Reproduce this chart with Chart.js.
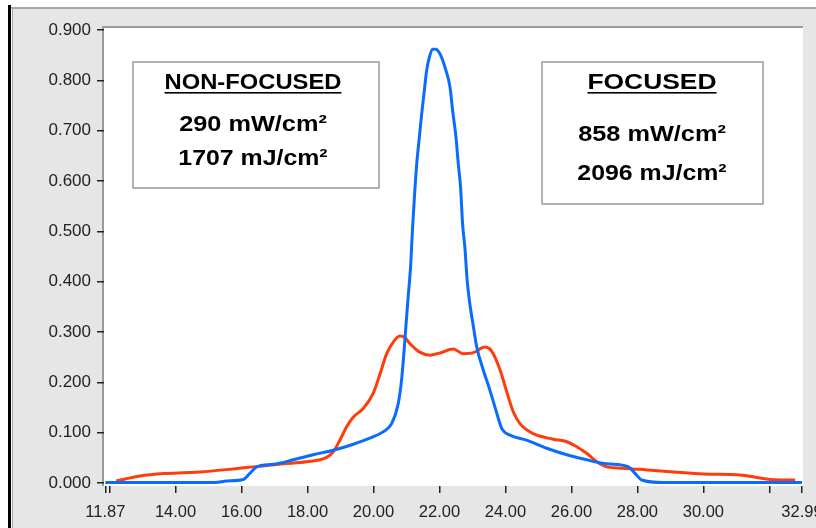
<!DOCTYPE html>
<html>
<head>
<meta charset="utf-8">
<script src="https://cdn.jsdelivr.net/npm/chart.js@4/dist/chart.umd.min.js"></script>
<style>
  html, body { margin: 0; padding: 0; background: #ffffff; }
  #wrap { position: relative; width: 816px; height: 528px; }
</style>
</head>
<body>
<div id="wrap"><canvas id="c" width="816" height="528"></canvas></div>
<script>
// ---- Data ----
const focusedX = [11.87, 15.2, 15.55, 16.05, 16.25, 16.46, 16.96, 17.57, 18.17, 18.78, 19.39, 19.89, 20.3, 20.55, 20.75, 20.85, 20.92, 20.98, 21.05, 21.13, 21.18, 21.24, 21.31, 21.39, 21.46, 21.54, 21.61, 21.69, 21.79, 21.89, 22.02, 22.17, 22.32, 22.40, 22.50, 22.57, 22.64, 22.70, 22.77, 22.84, 22.92, 23.03, 23.13, 23.33, 23.53, 23.74, 23.89, 24.14, 24.64, 25.25, 25.86, 26.46, 27.07, 27.73, 27.93, 28.13, 28.79, 32.99];
const focusedY = [0.001, 0.001, 0.004, 0.007, 0.019, 0.032, 0.037, 0.046, 0.056, 0.065, 0.077, 0.089, 0.102, 0.118, 0.158, 0.204, 0.257, 0.310, 0.369, 0.436, 0.502, 0.568, 0.634, 0.687, 0.733, 0.779, 0.819, 0.845, 0.862, 0.862, 0.852, 0.825, 0.786, 0.739, 0.687, 0.634, 0.587, 0.515, 0.468, 0.402, 0.356, 0.310, 0.270, 0.224, 0.184, 0.138, 0.108, 0.095, 0.085, 0.069, 0.056, 0.046, 0.038, 0.032, 0.019, 0.006, 0.001, 0.001];

const nonFocusedX = [12.2, 12.92, 13.73, 14.74, 15.75, 16.35, 17.26, 17.97, 18.58, 18.78, 18.98, 19.19, 19.39, 19.69, 19.99, 20.2, 20.4, 20.6, 20.8, 20.95, 21.1, 21.4, 21.71, 22.0, 22.42, 22.72, 23.03, 23.38, 23.58, 23.83, 24.04, 24.24, 24.44, 24.84, 25.45, 25.86, 26.16, 26.46, 26.77, 27.07, 27.68, 28.28, 29.09, 30.0, 31.11, 31.62, 32.02, 32.78];
const nonFocusedY = [0.004, 0.014, 0.019, 0.022, 0.028, 0.032, 0.038, 0.042, 0.051, 0.062, 0.085, 0.112, 0.131, 0.148, 0.178, 0.217, 0.257, 0.280, 0.292, 0.289, 0.277, 0.260, 0.254, 0.258, 0.266, 0.257, 0.259, 0.270, 0.262, 0.226, 0.181, 0.141, 0.118, 0.098, 0.087, 0.082, 0.072, 0.059, 0.042, 0.032, 0.029, 0.026, 0.022, 0.018, 0.016, 0.011, 0.007, 0.006];

const xTickValues = [11.87, 12, 14, 16, 18, 20, 22, 24, 26, 28, 30, 32, 32.99];
const xTickLabels = ['11.87', '', '14.00', '16.00', '18.00', '20.00', '22.00', '24.00', '26.00', '28.00', '30.00', '', '32.99'];
const yTickValues = [0, 0.1, 0.2, 0.3, 0.4, 0.5, 0.6, 0.7, 0.8, 0.9];

const nonFocusedBox = ['NON-FOCUSED', '290 mW/cm²', '1707 mJ/cm²'];
const focusedBox = ['FOCUSED', '858 mW/cm²', '2096 mJ/cm²'];

// ---- Drawing helpers ----
const frame = {
  id: 'frame',
  beforeDraw(chart) {
    const ctx = chart.ctx, a = chart.chartArea;
    ctx.save();
    ctx.fillStyle = '#ffffff';
    ctx.fillRect(0, 0, 816, 528);
    ctx.fillStyle = '#e6e6e6';
    ctx.fillRect(12, 8, 804, 520);
    ctx.fillStyle = '#000000';
    ctx.fillRect(8, 5, 3, 523);
    ctx.fillStyle = '#a8a8a8';
    ctx.fillRect(11, 7, 805, 2);
    ctx.fillRect(12, 8, 1, 520);
    ctx.fillStyle = '#ffffff';
    ctx.fillRect(a.left, a.top, a.right - a.left, a.bottom - a.top);
    ctx.fillStyle = '#9a9a9a';
    ctx.fillRect(a.left - 2, a.top - 2, a.right - a.left + 2, 2);
    ctx.fillRect(a.left - 2, a.top - 2, 2, a.bottom - a.top + 2);
    ctx.restore();
  },
  afterDraw(chart) {
    const ctx = chart.ctx;
    function box(x0, y0, x1, y1, lines, cx, baselines, scales) {
      ctx.save();
      ctx.strokeStyle = '#9a9a9a';
      ctx.lineWidth = 1.5;
      ctx.strokeRect(x0, y0, x1 - x0, y1 - y0);
      ctx.fillStyle = '#000000';
      ctx.font = 'bold 22px "Liberation Sans", Arial, sans-serif';
      ctx.textAlign = 'center';
      ctx.textBaseline = 'alphabetic';
      lines.forEach((t, i) => {
        ctx.save();
        ctx.translate(cx, baselines[i]);
        ctx.scale(scales[i], 1);
        ctx.fillText(t, 0, 0);
        if (i === 0) {
          const w = ctx.measureText(t).width;
          ctx.fillRect(-w / 2, 3, w, 1.6);
        }
        ctx.restore();
      });
      ctx.restore();
    }
    box(133, 62, 379, 188, nonFocusedBox, 253, [89, 131, 165], [1.08, 1.15, 1.13]);
    box(542, 62, 763, 204, focusedBox, 652, [89, 141, 180], [1.2, 1.15, 1.13]);
  }
};

const ctx = document.getElementById('c').getContext('2d');
new Chart(ctx, {
  type: 'line',
  data: {
    datasets: [
      {
        label: 'Focused',
        data: focusedX.map((x, i) => ({ x, y: focusedY[i] })),
        borderColor: '#0a6cff',
        borderWidth: 3,
        pointRadius: 0,
        cubicInterpolationMode: 'monotone',
        fill: false
      },
      {
        label: 'Non-focused',
        data: nonFocusedX.map((x, i) => ({ x, y: nonFocusedY[i] })),
        borderColor: '#ff3c0a',
        borderWidth: 3,
        pointRadius: 0,
        cubicInterpolationMode: 'monotone',
        fill: false
      }
    ]
  },
  plugins: [frame],
  options: {
    responsive: false,
    animation: false,
    devicePixelRatio: 1,
    layout: { padding: { left: 0, top: 28, right: 13, bottom: 0 } },
    plugins: { legend: { display: false }, tooltip: { enabled: false } },
    scales: {
      x: {
        type: 'linear',
        min: 11.83,
        max: 33.02,
        afterFit(s) { s.height = 42; s.paddingLeft = 0; s.paddingRight = 0; },
        afterBuildTicks(s) { s.ticks = xTickValues.map(v => ({ value: v })); },
        border: { display: false },
        grid: { drawOnChartArea: false, drawTicks: true, tickLength: 7, color: '#222', lineWidth: 1.5 },
        ticks: {
          autoSkip: false,
          maxRotation: 0,
          padding: 10,
          color: '#222',
          font: { family: '"Liberation Sans", Arial, sans-serif', size: 16.5 },
          callback: (v, i) => xTickLabels[i]
        }
      },
      y: {
        type: 'linear',
        min: -0.006,
        max: 0.904,
        afterFit(s) { s.width = 104; s.paddingTop = 0; s.paddingBottom = 0; },
        afterBuildTicks(s) { s.ticks = yTickValues.map(v => ({ value: v })); },
        border: { display: false },
        grid: { drawOnChartArea: false, drawTicks: true, tickLength: 7, color: '#222', lineWidth: 1.5 },
        ticks: {
          padding: 6,
          color: '#222',
          font: { family: '"Liberation Sans", Arial, sans-serif', size: 17 },
          callback: (v) => Number(v).toFixed(3)
        }
      }
    }
  }
});
</script>
</body>
</html>
